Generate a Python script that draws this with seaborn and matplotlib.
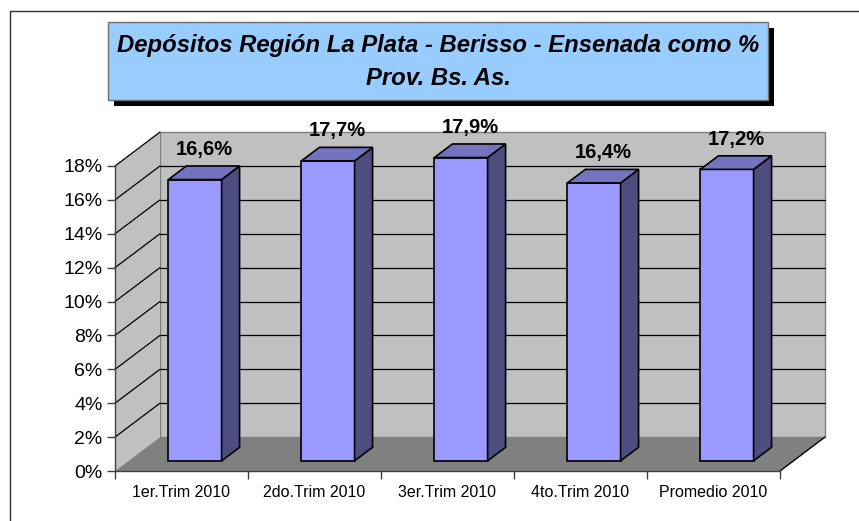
import matplotlib
matplotlib.use("Agg")
import matplotlib.pyplot as plt
import seaborn as sns
from matplotlib.patches import Polygon, Rectangle
from matplotlib.lines import Line2D
from matplotlib.transforms import Affine2D

# data
categories = ["1er.Trim 2010", "2do.Trim 2010", "3er.Trim 2010", "4to.Trim 2010", "Promedio 2010"]
values = [16.6, 17.7, 17.9, 16.4, 17.2]
value_labels = ["16,6%", "17,7%", "17,9%", "16,4%", "17,2%"]
y_ticks = [0, 2, 4, 6, 8, 10, 12, 14, 16, 18]
y_tick_labels = ["0%", "2%", "4%", "6%", "8%", "10%", "12%", "14%", "16%", "18%"]
title_lines = ["Depósitos Región La Plata - Berisso - Ensenada como %", "Prov. Bs. As."]

# fake 3d: depth offset of the back wall, in data units
DX, DY = 0.338, 2.0
BAR_FRONT, BAR_DEPTH = 0.30, 0.40
YMAX = 18

sns.set_theme(style="white")
plt.rcParams["font.family"] = ["Liberation Sans", "DejaVu Sans"]
plt.rcParams["text.color"] = "black"
plt.rcParams["xtick.labelcolor"] = "black"
plt.rcParams["ytick.labelcolor"] = "black"

W, H = 859, 521
fig = plt.figure(figsize=(W / 100, H / 100), dpi=100)
ax = fig.add_axes([115 / W, 50 / H, 665 / W, 305 / H])

# bars (front faces) via seaborn, then pushed back into the box
sns.barplot(x=categories, y=values, color="#9999FF", saturation=1, width=0.4,
            edgecolor="black", linewidth=1.2, ax=ax, zorder=3)
bars = list(ax.patches)
shift = Affine2D().translate(BAR_FRONT * DX, BAR_FRONT * DY) + ax.transData
for b in bars:
    b.set_transform(shift)
    b.set_clip_on(False)
    x, w, h = b.get_x(), b.get_width(), b.get_height()
    ddx, ddy = BAR_DEPTH * DX, BAR_DEPTH * DY
    side = [(x + w, 0), (x + w + ddx, ddy), (x + w + ddx, h + ddy), (x + w, h)]
    top = [(x, h), (x + w, h), (x + w + ddx, h + ddy), (x + ddx, h + ddy)]
    ax.add_patch(Polygon(side, closed=True, fc="#4D4D80", ec="black", lw=1.2,
                         transform=shift, clip_on=False, zorder=3))
    ax.add_patch(Polygon(top, closed=True, fc="#7373BF", ec="black", lw=1.2,
                         transform=shift, clip_on=False, zorder=3))

# value labels above each bar
mid = BAR_FRONT + BAR_DEPTH / 2
for i, (v, lab) in enumerate(zip(values, value_labels)):
    ax.annotate(lab, xy=(i + mid * DX, v + mid * DY), xytext=(0, 17),
                textcoords="offset points", ha="center", va="center",
                fontsize=14.5, fontweight="bold", annotation_clip=False)

# walls and floor
x0, x1 = -0.5, len(categories) - 0.5
back = [(x0 + DX, DY), (x1 + DX, DY), (x1 + DX, YMAX + DY), (x0 + DX, YMAX + DY)]
side_wall = [(x0, 0), (x0 + DX, DY), (x0 + DX, YMAX + DY), (x0, YMAX)]
floor = [(x0, 0), (x1, 0), (x1 + DX, DY), (x0 + DX, DY)]
ax.add_patch(Polygon(back, closed=True, fc="#C0C0C0", ec="#808080", lw=1, clip_on=False, zorder=0))
ax.add_patch(Polygon(side_wall, closed=True, fc="#C0C0C0", ec="none", clip_on=False, zorder=0))
ax.add_patch(Polygon(floor, closed=True, fc="#808080", ec="none", clip_on=False, zorder=0.5))
for v in y_ticks[1:]:
    ax.plot([x0, x0 + DX], [v, v + DY], color="black", lw=0.9, clip_on=False, zorder=1)
    if v < YMAX:
        ax.plot([x0 + DX, x1 + DX], [v + DY, v + DY], color="black", lw=0.9, clip_on=False, zorder=1)
ax.plot([x1, x1 + DX], [0, DY], color="black", lw=1, clip_on=False, zorder=1)

# axes
ax.set_xlim(x0, x1)
ax.set_ylim(0, YMAX)
ax.set_xlabel("")
ax.set_ylabel("")
ax.set_yticks(y_ticks)
ax.set_yticklabels(y_tick_labels)
ax.set_xticks(range(len(categories)))
ax.set_xticklabels(categories)
ax.set_xticks([i - 0.5 for i in range(len(categories) + 1)], minor=True)
ax.tick_params(axis="y", left=True, length=6, width=1, color="#404040", labelsize=14, pad=3)
ax.tick_params(axis="x", which="major", bottom=True, length=0, labelsize=11.5, pad=10)
ax.tick_params(axis="x", which="minor", bottom=True, length=6, width=1, color="#404040")
for s in ["top", "right"]:
    ax.spines[s].set_visible(False)
ax.spines["left"].set_color("#404040")
ax.spines["bottom"].set_color("#404040")
ax.spines["left"].set_linewidth(1)
ax.spines["bottom"].set_linewidth(1)
ax.set_facecolor("none")

# title box with shadow
bx, by, bw, bh = 108, 22, 660, 78
fig.patches.append(Rectangle(((bx + 6) / W, 1 - (by + bh + 6) / H), bw / W, bh / H,
                             transform=fig.transFigure, fc="black", ec="none", zorder=1))
fig.patches.append(Rectangle((bx / W, 1 - (by + bh) / H), bw / W, bh / H,
                             transform=fig.transFigure, fc="#99CCFF", ec="#707070", lw=1, zorder=2))
fig.text((bx + bw / 2) / W, 1 - (by + bh / 2 + 1) / H, "\n".join(title_lines),
         ha="center", va="center", fontsize=17.2, fontweight="bold", fontstyle="italic",
         linespacing=1.6, zorder=3)

# outer frame (left and top edges)
fig.add_artist(Line2D([10 / W, 10 / W], [0, 1 - 11 / H], transform=fig.transFigure, color="#333333", lw=1))
fig.add_artist(Line2D([10 / W, 1], [1 - 11 / H, 1 - 11 / H], transform=fig.transFigure, color="#333333", lw=1))

fig.savefig("out.png", dpi=100, facecolor="white")
